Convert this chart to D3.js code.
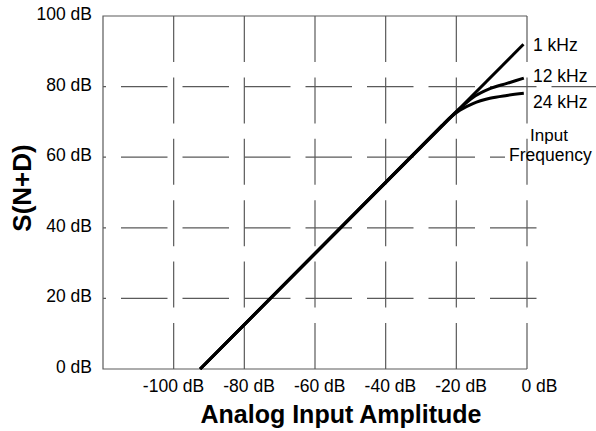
<!DOCTYPE html>
<html>
<head>
<meta charset="utf-8">
<script src="https://cdn.jsdelivr.net/npm/d3@7"></script>
<style>
    body { margin: 0; background: #fff; }
    svg { display: block; }
</style>
</head>
<body>
<div id="chart"></div>
<script>
// tick values / labels
var xTicks = [-100, -80, -60, -40, -20, 0];
var yTicks = [0, 20, 40, 60, 80, 100];
var seriesNames = ["1 kHz", "12 kHz", "24 kHz"];

// input amplitude (dB) and S/(N+D) (dB)
var in1k = [-92.5, -1];
var out1k = [0, 92];
var in12k = [-92.5, -24, -22, -19, -15.3, -10.5, -5.7, -0.9];
var out12k = [0, 69, 71, 73.8, 76.9, 79.4, 80.9, 82.4];
var in24k = [-92.5, -24, -22, -19, -15.3, -10.5, -5.7, -0.9];
var out24k = [0, 69, 71, 73.3, 75.2, 76.7, 77.5, 78.1];

var W = 596, H = 431;
var margin = { top: 16, left: 103 },
    width = 424,
    height = 353;
var font = "'Liberation Sans', Arial, Helvetica, sans-serif";
var gridColor = "#5a5a5a";

var svg = d3.select("#chart").append("svg")
    .attr("width", W)
    .attr("height", H);

var x = d3.scaleLinear().domain([-120, 0]).range([margin.left, margin.left + width]);
var y = d3.scaleLinear().domain([0, 100]).range([margin.top + height, margin.top]);

// horizontal grid, drawn right to left so the dash phase matches
svg.selectAll(".hgrid")
    .data(yTicks.filter((d) => d > 0 && d < 100))
    .enter()
    .append("line")
    .attr("class", "hgrid")
    .attr("x1", (d) => (d >= 60 ? W + 2 : x(0) + 9.5))
    .attr("x2", x(-120))
    .attr("y1", (d) => y(d))
    .attr("y2", (d) => y(d))
    .attr("stroke", gridColor)
    .attr("stroke-width", 1.2)
    .attr("stroke-dasharray", "46.5,15");

// white box behind the "Frequency" caption
svg.append("rect")
    .attr("x", 505)
    .attr("y", 145)
    .attr("width", 91)
    .attr("height", 21)
    .attr("fill", "#fff");

// vertical grid
svg.selectAll(".vgrid")
    .data(xTicks)
    .enter()
    .append("line")
    .attr("class", "vgrid")
    .attr("x1", (d) => x(d))
    .attr("x2", (d) => x(d))
    .attr("y1", y(100))
    .attr("y2", y(0))
    .attr("stroke", gridColor)
    .attr("stroke-width", 1.2)
    .attr("stroke-dasharray", "46,15.4");

// frame: left, top, bottom
svg.append("path")
    .attr("d", "M" + x(0) + "," + y(100) + "H" + x(-120) + "V" + y(0) + "H" + x(0))
    .attr("fill", "none")
    .attr("stroke", gridColor)
    .attr("stroke-width", 1.2);

// axes (labels only)
var xAxis = svg.append("g")
    .attr("transform", "translate(0," + y(0) + ")")
    .call(d3.axisBottom(x).tickValues(xTicks).tickSize(0).tickPadding(11)
        .tickFormat((d) => d + " dB"));
xAxis.select(".domain").remove();
xAxis.selectAll("text")
    .attr("text-anchor", "end")
    .attr("dx", 30)
    .attr("fill", "#000")
    .style("font-family", font)
    .style("font-size", "17.5px");

var yAxis = svg.append("g")
    .attr("transform", "translate(" + x(-120) + ",0)")
    .call(d3.axisLeft(y).tickValues(yTicks).tickSize(0).tickPadding(11)
        .tickFormat((d) => d + " dB"));
yAxis.select(".domain").remove();
yAxis.selectAll("text")
    .attr("dy", "0.2em")
    .attr("fill", "#000")
    .style("font-family", font)
    .style("font-size", "17.5px");

// curves
var series = [
    { name: seriesNames[0], xs: in1k, ys: out1k },
    { name: seriesNames[1], xs: in12k, ys: out12k },
    { name: seriesNames[2], xs: in24k, ys: out24k },
];
var line = d3.line()
    .curve(d3.curveMonotoneX)
    .x((d) => x(d[0]))
    .y((d) => y(d[1]));

svg.selectAll(".curve")
    .data(series.slice().reverse())
    .enter()
    .append("path")
    .attr("class", "curve")
    .attr("fill", "none")
    .attr("stroke", "#000")
    .attr("stroke-width", 3)
    .attr("d", (s) => line(s.xs.map((v, i) => [v, s.ys[i]])));

// curve labels
var labelY = [51, 82, 108];
svg.selectAll(".clabel")
    .data(seriesNames)
    .enter()
    .append("text")
    .attr("class", "clabel")
    .attr("x", x(0) + 6)
    .attr("y", (_, i) => labelY[i])
    .style("font-family", font)
    .style("font-size", "17.5px")
    .text((d) => d);

svg.append("text")
    .attr("x", 549)
    .attr("y", 141)
    .attr("text-anchor", "middle")
    .style("font-family", font)
    .style("font-size", "17px")
    .text("Input");
svg.append("text")
    .attr("x", 509)
    .attr("y", 161)
    .style("font-family", font)
    .style("font-size", "17.5px")
    .text("Frequency");

// axis titles
svg.append("text")
    .attr("x", 341)
    .attr("y", 423)
    .attr("text-anchor", "middle")
    .style("font-family", font)
    .style("font-size", "25px")
    .style("font-weight", "bold")
    .text("Analog Input Amplitude");

svg.append("text")
    .attr("transform", "translate(31,188) rotate(-90)")
    .attr("text-anchor", "middle")
    .style("font-family", font)
    .style("font-size", "26px")
    .style("font-weight", "bold")
    .text("S(N+D)");
</script>
</body>
</html>
